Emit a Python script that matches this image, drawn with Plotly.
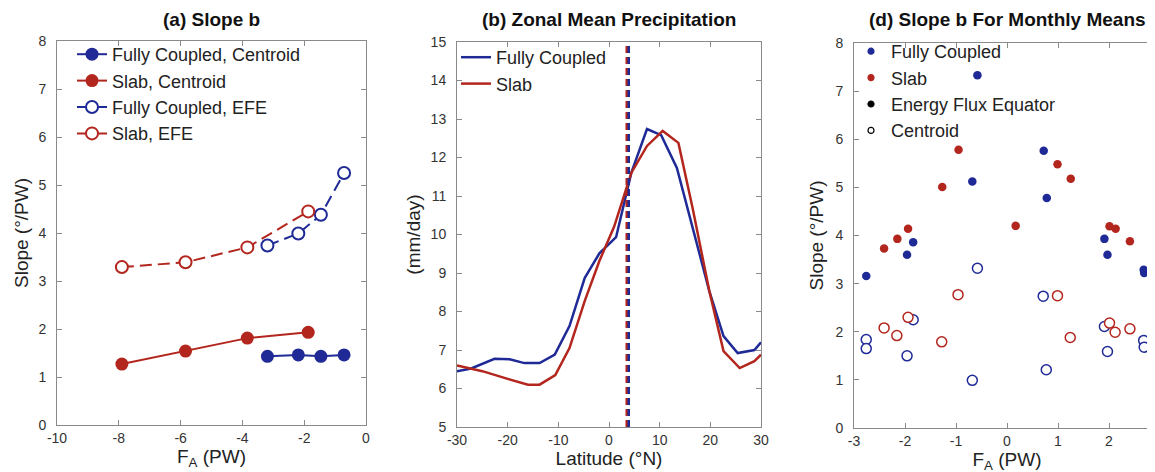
import plotly.graph_objects as go

# ---------------- Panel (a): Slope b ----------------
fc_fa = [-3.19, -2.19, -1.46, -0.71]
fc_centroid_slope = [1.43, 1.46, 1.43, 1.46]
fc_efe_slope = [3.74, 3.99, 4.38, 5.25]
slab_fa = [-7.90, -5.84, -3.84, -1.87]
slab_centroid_slope = [1.27, 1.54, 1.81, 1.93]
slab_efe_slope = [3.29, 3.39, 3.70, 4.45]

# ---------------- Panel (b): Zonal mean precipitation ----------------
fc_lat = [-30, -27.2, -22.6, -19.6, -16.7, -13.7, -10.7, -7.8, -4.8, -1.9, 1.4, 4.4,
          7.5, 10.3, 13.4, 16.5, 19.8, 22.6, 25.4, 28.7, 30]
fc_precip = [6.45, 6.52, 6.77, 6.76, 6.66, 6.66, 6.88, 7.62, 8.87, 9.51, 9.93, 11.6,
             12.74, 12.58, 11.73, 10.17, 8.53, 7.36, 6.92, 7.0, 7.2]
slab_lat = [-30, -25, -20, -16, -13.7, -10.6, -7.8, -4.8, -1.9, 1.0, 4.4, 7.5, 10.6,
            13.7, 16.5, 19.8, 22.6, 25.8, 28.7, 30]
slab_precip = [6.6, 6.45, 6.25, 6.1, 6.1, 6.35, 7.05, 8.27, 9.31, 10.2, 11.6, 12.3, 12.69,
               12.38, 10.69, 8.53, 6.97, 6.53, 6.71, 6.88]
slab_efe_lat = 3.5
fc_efe_lat = 3.9

# ---------------- Panel (d): Slope b for monthly means ----------------
fc_month_fa = [-2.76, -1.96, -1.84, -0.68, -0.58, 0.72, 0.78, 1.91, 1.97, 2.68, 2.69]
fc_month_efe = [3.16, 3.60, 3.86, 5.12, 7.33, 5.76, 4.78, 3.93, 3.60, 3.29, 3.22]
fc_month_cfa = [-2.76, -2.76, -1.96, -1.84, -0.68, -0.58, 0.71, 0.77, 1.91, 1.97, 2.68, 2.69]
fc_month_centroid = [1.84, 1.65, 1.50, 2.25, 0.99, 3.32, 2.74, 1.21, 2.11, 1.59, 1.82, 1.68]
slab_month_fa = [-2.41, -2.15, -1.94, -1.27, -0.95, 0.17, 0.99, 1.25, 2.01, 2.13, 2.41]
slab_month_efe = [3.73, 3.93, 4.14, 5.01, 5.78, 4.20, 5.48, 5.18, 4.19, 4.14, 3.88]
slab_month_cfa = [-2.41, -2.16, -1.94, -1.28, -0.96, 0.99, 1.24, 2.01, 2.12, 2.41]
slab_month_centroid = [2.08, 1.92, 2.30, 1.79, 2.77, 2.75, 1.88, 2.18, 1.99, 2.06]

# tick labels
a_xticks = [-10, -8, -6, -4, -2, 0]
a_yticks = [0, 1, 2, 3, 4, 5, 6, 7, 8]
b_xticks = [-30, -20, -10, 0, 10, 20, 30]
b_yticks = [5, 6, 7, 8, 9, 10, 11, 12, 13, 14, 15]
d_xticks = [-3, -2, -1, 0, 1, 2, 3]
d_yticks = [0, 1, 2, 3, 4, 5, 6, 7, 8]

BLUE = "#1f2a96"
RED = "#b3261e"
FONT = "Liberation Sans, Arial, Helvetica, sans-serif"
AXC = "#8a8a8a"
LEGFONT = 18
W, H = 1155, 472

fig = go.Figure()

# Panel a traces
fig.add_trace(go.Scatter(x=fc_fa, y=fc_centroid_slope, mode="lines+markers",
                         name="Fully Coupled, Centroid", xaxis="x", yaxis="y", legend="legend",
                         line=dict(color=BLUE, width=2),
                         marker=dict(color=BLUE, size=13, symbol="circle")))
fig.add_trace(go.Scatter(x=slab_fa, y=slab_centroid_slope, mode="lines+markers",
                         name="Slab, Centroid", xaxis="x", yaxis="y", legend="legend",
                         line=dict(color=RED, width=2),
                         marker=dict(color=RED, size=13, symbol="circle")))
fig.add_trace(go.Scatter(x=fc_fa, y=fc_efe_slope, mode="lines+markers",
                         name="Fully Coupled, EFE", xaxis="x", yaxis="y", legend="legend",
                         line=dict(color=BLUE, width=2, dash="12px,6px"),
                         marker=dict(color="white", size=12, symbol="circle",
                                     line=dict(color=BLUE, width=2))))
fig.add_trace(go.Scatter(x=slab_fa, y=slab_efe_slope, mode="lines+markers",
                         name="Slab, EFE", xaxis="x", yaxis="y", legend="legend",
                         line=dict(color=RED, width=2, dash="12px,6px"),
                         marker=dict(color="white", size=12, symbol="circle",
                                     line=dict(color=RED, width=2))))

# Panel b traces
fig.add_trace(go.Scatter(x=fc_lat, y=fc_precip, mode="lines", name="Fully Coupled",
                         xaxis="x2", yaxis="y2", legend="legend2",
                         line=dict(color=BLUE, width=2.5)))
fig.add_trace(go.Scatter(x=slab_lat, y=slab_precip, mode="lines", name="Slab",
                         xaxis="x2", yaxis="y2", legend="legend2",
                         line=dict(color=RED, width=2.5)))

# Panel d traces
fig.add_trace(go.Scatter(x=fc_month_fa, y=fc_month_efe, mode="markers", showlegend=False,
                         xaxis="x3", yaxis="y3",
                         marker=dict(color=BLUE, size=8.5)))
fig.add_trace(go.Scatter(x=slab_month_fa, y=slab_month_efe, mode="markers", showlegend=False,
                         xaxis="x3", yaxis="y3",
                         marker=dict(color=RED, size=8.5)))
fig.add_trace(go.Scatter(x=fc_month_cfa, y=fc_month_centroid, mode="markers", showlegend=False,
                         xaxis="x3", yaxis="y3",
                         marker=dict(color="white", size=10, line=dict(color=BLUE, width=1.5))))
fig.add_trace(go.Scatter(x=slab_month_cfa, y=slab_month_centroid, mode="markers", showlegend=False,
                         xaxis="x3", yaxis="y3",
                         marker=dict(color="white", size=10, line=dict(color=RED, width=1.5))))
# legend entries for panel d
for nm, col, fill in [("Fully Coupled", BLUE, BLUE), ("Slab", RED, RED),
                      ("Energy Flux Equator", "black", "black"), ("Centroid", "black", "white")]:
    fig.add_trace(go.Scatter(x=[None], y=[None], mode="markers", name=nm,
                             xaxis="x3", yaxis="y3", legend="legend3",
                             marker=dict(color=fill, size=6, line=dict(color=col, width=1.2))))

# vertical EFE lines (panel b)
fig.add_shape(type="line", xref="x2", yref="y2 domain", x0=slab_efe_lat, x1=slab_efe_lat,
              y0=0, y1=1, line=dict(color=RED, width=2.5, dash="7px,4px"))
fig.add_shape(type="line", xref="x2", yref="y2 domain", x0=fc_efe_lat, x1=fc_efe_lat,
              y0=0, y1=1, line=dict(color=BLUE, width=2.5, dash="7px,4px"))


def px_x(p):
    return p / W


def px_y(p):
    return 1 - p / H


def axis(domain, rng, ticks, title, standoff, anchor, lblgap):
    return dict(domain=domain, range=rng, tickmode="array", tickvals=ticks,
                ticktext=[str(t) for t in ticks],
                showline=True, linecolor=AXC, linewidth=1, mirror="ticks",
                ticks="inside", ticklen=5, tickcolor=AXC, showgrid=False, zeroline=False,
                ticklabelstandoff=lblgap,
                tickfont=dict(size=14, color="#333333", family=FONT),
                title=dict(text=title, standoff=standoff, font=dict(size=19, color="#222222", family=FONT)),
                automargin=False, anchor=anchor)


ya = [px_y(417), px_y(33)]
yb = [px_y(419), px_y(34)]
yd = [px_y(420), px_y(35)]

fig.update_layout(
    width=W, height=H, template="none",
    paper_bgcolor="white", plot_bgcolor="white",
    margin=dict(l=0, r=0, t=0, b=0),
    font=dict(family=FONT, color="#222222"),
    xaxis=axis([px_x(49), px_x(358)], [-10, 0], a_xticks, "F<sub>A</sub> (PW)", 2, "y", 0),
    yaxis=axis(ya, [0, 8], a_yticks, "Slope (°/PW)", 4, "x", 7),
    xaxis2=axis([px_x(449), px_x(753)], [-30, 30], b_xticks, "Latitude (°N)", 2, "y2", 0),
    yaxis2=axis(yb, [5, 15], b_yticks, "(mm/day)", 4, "x2", 7),
    xaxis3=axis([px_x(846), px_x(1152)], [-3, 3], d_xticks, "F<sub>A</sub> (PW)", 2, "y3", 0),
    yaxis3=axis(yd, [0, 8], d_yticks, "Slope (°/PW)", 6, "x3", 7),
    legend=dict(x=px_x(64), y=px_y(28), xanchor="left", yanchor="top",
                bgcolor="rgba(0,0,0,0)", font=dict(size=LEGFONT, family=FONT, color="#222222"),
                tracegroupgap=0, itemsizing="trace"),
    legend2=dict(x=px_x(448), y=px_y(31), xanchor="left", yanchor="top",
                 bgcolor="rgba(0,0,0,0)", font=dict(size=LEGFONT, family=FONT, color="#222222")),
    legend3=dict(x=px_x(843), y=px_y(25), xanchor="left", yanchor="top",
                 bgcolor="rgba(0,0,0,0)", font=dict(size=LEGFONT, family=FONT, color="#222222")),
    showlegend=True,
)

titles = [("(a) Slope b", (49 + 358) / 2), ("(b) Zonal Mean Precipitation", (449 + 753) / 2),
          ("(d) Slope b For Monthly Means", (846 + 1152) / 2)]
for txt, cx in titles:
    fig.add_annotation(text="<b>" + txt + "</b>", xref="paper", yref="paper",
                       x=px_x(cx), y=px_y(11), xanchor="center", yanchor="middle",
                       showarrow=False, font=dict(size=19, family=FONT, color="#111111"))

fig.write_html("out.html")
